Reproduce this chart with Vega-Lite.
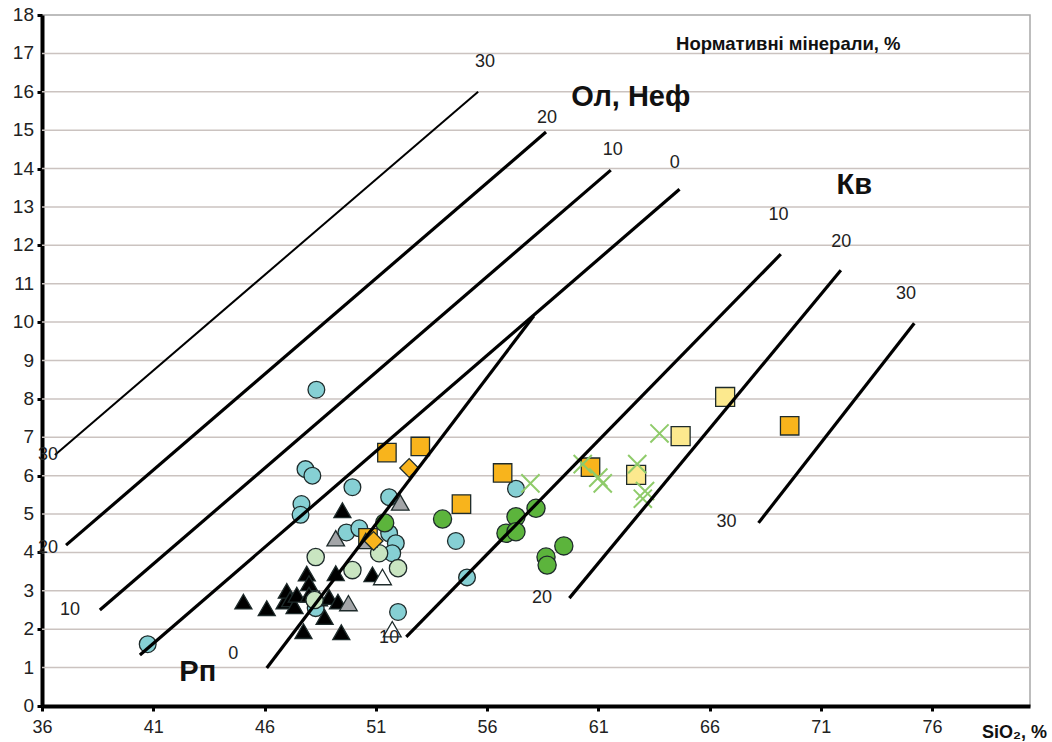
{
  "$schema": "https://vega.github.io/schema/vega-lite/v6.json",
  "width": 988,
  "height": 691,
  "autosize": "none",
  "padding": {"left": 42, "top": 15, "right": 22, "bottom": 36},
  "background": "white",
  "config": {
    "view": {"stroke": "#a8a8a8", "strokeWidth": 1.5},
    "font": "Liberation Sans"
  },
  "datasets": {
    "grid": [{"v": 0}, {"v": 1}, {"v": 2}, {"v": 3}, {"v": 4}, {"v": 5}, {"v": 6}, {"v": 7}, {"v": 8}, {"v": 9}, {"v": 10}, {"v": 11}, {"v": 12}, {"v": 13}, {"v": 14}, {"v": 15}, {"v": 16}, {"v": 17}, {"v": 18}],
    "pts": [
      {"g": "cyan", "x": 40.75, "y": 1.61}, {"g": "cyan", "x": 48.33, "y": 8.24}, {"g": "cyan", "x": 47.84, "y": 6.17}, {"g": "cyan", "x": 48.15, "y": 6.0},
      {"g": "cyan", "x": 49.95, "y": 5.7}, {"g": "cyan", "x": 47.66, "y": 5.26}, {"g": "cyan", "x": 47.62, "y": 4.98}, {"g": "cyan", "x": 51.6, "y": 5.44},
      {"g": "cyan", "x": 49.68, "y": 4.52}, {"g": "cyan", "x": 50.26, "y": 4.63}, {"g": "cyan", "x": 51.6, "y": 4.5}, {"g": "cyan", "x": 51.9, "y": 4.24},
      {"g": "cyan", "x": 51.74, "y": 3.98}, {"g": "cyan", "x": 54.6, "y": 4.3}, {"g": "cyan", "x": 55.1, "y": 3.35}, {"g": "cyan", "x": 52.0, "y": 2.45},
      {"g": "cyan", "x": 57.3, "y": 5.66}, {"g": "cyan", "x": 48.3, "y": 2.55},
      {"g": "black", "x": 45.05, "y": 2.72}, {"g": "black", "x": 46.1, "y": 2.55}, {"g": "black", "x": 46.9, "y": 2.72}, {"g": "black", "x": 47.0, "y": 3.0},
      {"g": "black", "x": 47.15, "y": 2.78}, {"g": "black", "x": 47.35, "y": 2.6}, {"g": "black", "x": 47.9, "y": 3.45}, {"g": "black", "x": 48.0, "y": 3.2},
      {"g": "black", "x": 48.45, "y": 2.8}, {"g": "black", "x": 48.9, "y": 2.84}, {"g": "black", "x": 49.2, "y": 3.46}, {"g": "black", "x": 49.3, "y": 2.72},
      {"g": "black", "x": 48.7, "y": 2.32}, {"g": "black", "x": 47.75, "y": 1.95}, {"g": "black", "x": 49.45, "y": 1.92}, {"g": "black", "x": 49.5, "y": 5.1},
      {"g": "black", "x": 50.85, "y": 3.43}, {"g": "black", "x": 47.45, "y": 2.9}, {"g": "black", "x": 48.0, "y": 2.9},
      {"g": "lightgreen", "x": 48.3, "y": 3.88}, {"g": "lightgreen", "x": 51.15, "y": 3.98}, {"g": "lightgreen", "x": 49.95, "y": 3.54},
      {"g": "lightgreen", "x": 52.0, "y": 3.59}, {"g": "lightgreen", "x": 48.25, "y": 2.76},
      {"g": "orange", "x": 50.65, "y": 4.38},
      {"g": "gray", "x": 52.1, "y": 5.3}, {"g": "gray", "x": 49.2, "y": 4.37}, {"g": "gray", "x": 50.55, "y": 4.3}, {"g": "gray", "x": 49.77, "y": 2.68},
      {"g": "white", "x": 51.3, "y": 3.36}, {"g": "white", "x": 51.74, "y": 2.0},
      {"g": "green", "x": 51.4, "y": 4.77}, {"g": "green", "x": 54.0, "y": 4.87}, {"g": "green", "x": 57.3, "y": 4.93}, {"g": "green", "x": 58.2, "y": 5.15},
      {"g": "green", "x": 56.85, "y": 4.5}, {"g": "green", "x": 57.3, "y": 4.54}, {"g": "green", "x": 58.65, "y": 3.88}, {"g": "green", "x": 58.7, "y": 3.67},
      {"g": "green", "x": 59.45, "y": 4.17},
      {"g": "orange", "x": 51.5, "y": 6.6}, {"g": "orange", "x": 53.0, "y": 6.76}, {"g": "orange", "x": 56.7, "y": 6.07}, {"g": "orange", "x": 54.85, "y": 5.26},
      {"g": "orange", "x": 60.65, "y": 6.22}, {"g": "orange", "x": 69.6, "y": 7.3},
      {"g": "orangediamond", "x": 52.5, "y": 6.2}, {"g": "orangediamond", "x": 50.9, "y": 4.3},
      {"g": "yellow", "x": 66.7, "y": 8.05}, {"g": "yellow", "x": 64.7, "y": 7.03}, {"g": "yellow", "x": 62.7, "y": 6.02}
    ],
    "crosses": [
      {"x": 57.95, "y": 5.8}, {"x": 60.3, "y": 6.3}, {"x": 61.0, "y": 5.95}, {"x": 61.2, "y": 5.8},
      {"x": 63.75, "y": 7.1}, {"x": 62.75, "y": 6.3}, {"x": 63.1, "y": 5.6}, {"x": 63.0, "y": 5.4}
    ],
    "lns": [
      {"line": "ol30", "x": 36.58, "y": 6.54}, {"line": "ol30", "x": 55.6, "y": 16.0},
      {"line": "ol20", "x": 37.08, "y": 4.19}, {"line": "ol20", "x": 58.65, "y": 14.95},
      {"line": "ol10", "x": 38.6, "y": 2.5}, {"line": "ol10", "x": 61.56, "y": 13.96},
      {"line": "ol0", "x": 40.4, "y": 1.33}, {"line": "ol0", "x": 64.65, "y": 13.46},
      {"line": "rp0", "x": 46.1, "y": 0.99}, {"line": "rp0", "x": 58.1, "y": 10.16},
      {"line": "q10", "x": 52.37, "y": 1.8}, {"line": "q10", "x": 69.2, "y": 11.77},
      {"line": "q20", "x": 59.7, "y": 2.81}, {"line": "q20", "x": 71.9, "y": 11.35},
      {"line": "q30", "x": 68.2, "y": 4.77}, {"line": "q30", "x": 75.2, "y": 9.97}
    ],
    "nums": [
      {"t": "30", "x": 55.91, "y": 16.77}, {"t": "20", "x": 58.69, "y": 15.31}, {"t": "10", "x": 61.65, "y": 14.48}, {"t": "0", "x": 64.43, "y": 14.14},
      {"t": "30", "x": 36.27, "y": 6.54}, {"t": "20", "x": 36.27, "y": 4.11}, {"t": "10", "x": 37.26, "y": 2.5}, {"t": "0", "x": 44.6, "y": 1.35},
      {"t": "10", "x": 51.6, "y": 1.77}, {"t": "20", "x": 58.47, "y": 2.81}, {"t": "30", "x": 66.76, "y": 4.79},
      {"t": "10", "x": 69.1, "y": 12.79}, {"t": "20", "x": 71.92, "y": 12.08}, {"t": "30", "x": 74.83, "y": 10.73}
    ],
    "bigs": [
      {"t": "Ол, Неф", "x": 62.46, "y": 15.86}, {"t": "Кв", "x": 72.5, "y": 13.57}, {"t": "Рп", "x": 43.0, "y": 0.89}
    ],
    "note": [
      {"t": "Нормативні мінерали, %", "x": 69.54, "y": 17.24}
    ]
  },
  "layer": [
    {
      "data": {"name": "grid"},
      "transform": [{"filter": "datum.v > 0 && datum.v < 18"}],
      "mark": {"type": "rule", "color": "#cbc3c0", "strokeWidth": 1.5},
      "encoding": {
        "y": {"field": "v", "type": "quantitative",
          "scale": {"domain": [0, 18], "nice": false, "zero": true},
          "axis": {"values": [0, 1, 2, 3, 4, 5, 6, 7, 8, 9, 10, 11, 12, 13, 14, 15, 16, 17, 18],
            "grid": false, "labels": false,
            "domainColor": "#000", "domainWidth": 4, "tickColor": "#000", "tickWidth": 3, "tickSize": 5, "title": null}}
      }
    },
    {
      "data": {"name": "grid"},
      "mark": {"type": "text", "fontSize": 19, "color": "#222", "align": "right", "baseline": "middle", "dx": -8},
      "encoding": {
        "x": {"datum": 36, "type": "quantitative"},
        "y": {"field": "v", "type": "quantitative"},
        "text": {"field": "v", "type": "quantitative"}
      }
    },
    {
      "data": {"name": "pts"},
      "mark": {"type": "point", "filled": true, "stroke": "#1e2b2b", "strokeWidth": 1.3, "opacity": 1},
      "encoding": {
        "x": {"field": "x", "type": "quantitative",
          "scale": {"domain": [36, 80.4], "nice": false, "zero": false},
          "axis": {"values": [36, 41, 46, 51, 56, 61, 66, 71, 76], "grid": false, "domainColor": "#000", "domainWidth": 4,
            "tickColor": "#000", "tickWidth": 3, "tickSize": 5, "labelFont": "Liberation Sans", "labelFontSize": 18, "labelColor": "#222", "labelPadding": 7,
            "labelOverlap": false, "labelFlush": false,
            "title": "SiO₂, %", "titleFont": "Liberation Sans", "titleFontSize": 18, "titleFontWeight": "bold", "titleColor": "#111",
            "titleX": 972, "titleY": 31, "titleAlign": "center", "titleBaseline": "alphabetic"}},
        "y": {"field": "y", "type": "quantitative"},
        "shape": {"field": "g", "type": "nominal", "legend": null,
          "scale": {"domain": ["cyan", "black", "lightgreen", "gray", "white", "green", "orange", "orangediamond", "yellow"],
            "range": ["circle", "triangle-up", "circle", "triangle-up", "triangle-up", "circle", "square", "diamond", "square"]}},
        "fill": {"field": "g", "type": "nominal", "legend": null,
          "scale": {"domain": ["cyan", "black", "lightgreen", "gray", "white", "green", "orange", "orangediamond", "yellow"],
            "range": ["#86d0d4", "#000000", "#c9e5c1", "#a3a5a8", "#ffffff", "#5cb43c", "#f8b41c", "#f8b41c", "#fce98e"]}},
        "size": {"field": "g", "type": "nominal", "legend": null,
          "scale": {"domain": ["cyan", "black", "lightgreen", "gray", "white", "green", "orange", "orangediamond", "yellow"],
            "range": [280, 360, 280, 360, 360, 280, 290, 170, 290]}}
      }
    },
    {
      "data": {"name": "crosses"},
      "mark": {"type": "point", "filled": false, "shape": "M-1,-1L1,1M1,-1L-1,1", "stroke": "#8fcb6a", "strokeWidth": 2, "size": 330, "opacity": 1},
      "encoding": {
        "x": {"field": "x", "type": "quantitative"},
        "y": {"field": "y", "type": "quantitative"}
      }
    },
    {
      "data": {"name": "lns"},
      "transform": [{"filter": "datum.line === 'ol30'"}],
      "mark": {"type": "line", "color": "#000", "strokeWidth": 2},
      "encoding": {
        "x": {"field": "x", "type": "quantitative"},
        "y": {"field": "y", "type": "quantitative"},
        "detail": {"field": "line", "type": "nominal"}
      }
    },
    {
      "data": {"name": "lns"},
      "transform": [{"filter": "datum.line !== 'ol30'"}],
      "mark": {"type": "line", "color": "#000", "strokeWidth": 3.2},
      "encoding": {
        "x": {"field": "x", "type": "quantitative"},
        "y": {"field": "y", "type": "quantitative"},
        "detail": {"field": "line", "type": "nominal"}
      }
    },
    {
      "data": {"name": "nums"},
      "mark": {"type": "text", "fontSize": 18, "color": "#222", "align": "center", "baseline": "middle"},
      "encoding": {
        "x": {"field": "x", "type": "quantitative"},
        "y": {"field": "y", "type": "quantitative"},
        "text": {"field": "t"}
      }
    },
    {
      "data": {"name": "bigs"},
      "mark": {"type": "text", "fontSize": 29, "fontWeight": "bold", "color": "#111", "align": "center", "baseline": "middle"},
      "encoding": {
        "x": {"field": "x", "type": "quantitative"},
        "y": {"field": "y", "type": "quantitative"},
        "text": {"field": "t"}
      }
    },
    {
      "data": {"name": "note"},
      "mark": {"type": "text", "fontSize": 18.5, "fontWeight": "bold", "color": "#111", "align": "center", "baseline": "middle"},
      "encoding": {
        "x": {"field": "x", "type": "quantitative"},
        "y": {"field": "y", "type": "quantitative"},
        "text": {"field": "t"}
      }
    }
  ]
}
